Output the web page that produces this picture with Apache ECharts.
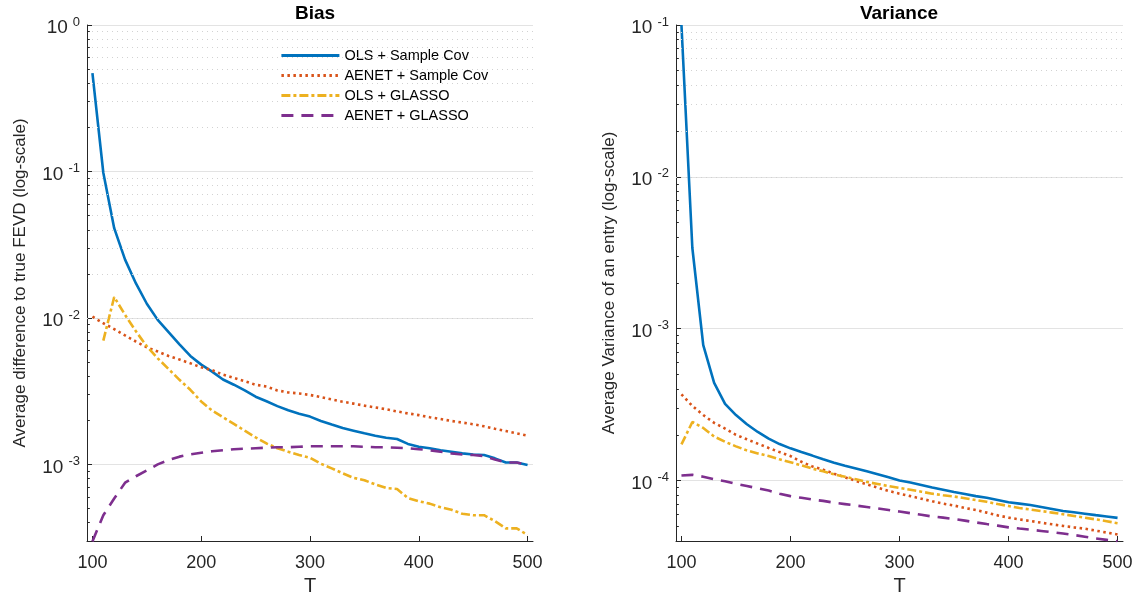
<!DOCTYPE html>
<html>
<head>
<meta charset="utf-8">
<script src="https://cdn.jsdelivr.net/npm/echarts@6/dist/echarts.min.js"></script>
<style>
  html, body { margin: 0; padding: 0; background: #fff; }
  #main { width: 1142px; height: 604px; }
</style>
</head>
<body>
<div id="main"></div>
<script>
// sample sizes
const T = [100, 110, 120, 130, 140, 150, 160, 170, 180, 190, 200, 210, 220, 230, 240, 250, 260, 270, 280, 290, 300,
           310, 320, 330, 340, 350, 360, 370, 380, 390, 400, 410, 420, 430, 440, 450, 460, 470, 480, 490, 500];

const seriesNames = ['OLS + Sample Cov', 'AENET + Sample Cov', 'OLS + GLASSO', 'AENET + GLASSO'];

// Bias panel
const biasOlsSample = [0.47, 0.098, 0.041, 0.025, 0.0172, 0.0125, 0.0097, 0.0080, 0.0066, 0.0055, 0.0048,
  0.0043, 0.0038, 0.0035, 0.0032, 0.0029, 0.0027, 0.0025, 0.00234, 0.00222, 0.00212,
  0.00198, 0.00187, 0.00177, 0.00170, 0.00163, 0.00157, 0.00152, 0.00149, 0.00138, 0.00132,
  0.00129, 0.00125, 0.00122, 0.00119, 0.00117, 0.00116, 0.00110, 0.00103, 0.00103, 0.00099];
const biasAenetSample = [0.0102, 0.0092, 0.0084, 0.0076, 0.0069, 0.0063, 0.0059, 0.0055, 0.0052, 0.0049, 0.0046,
  0.0044, 0.0041, 0.0039, 0.0037, 0.0035, 0.0034, 0.0032, 0.0031, 0.00305, 0.00298,
  0.00288, 0.00278, 0.00268, 0.00260, 0.00252, 0.00245, 0.00238, 0.00230, 0.00223, 0.00217,
  0.00210, 0.00204, 0.00198, 0.00193, 0.00188, 0.00182, 0.00175, 0.00169, 0.00163, 0.00157];
const biasOlsGlasso = [null, 0.0070, 0.0139, 0.0105, 0.0081, 0.0064, 0.0053, 0.00448, 0.00378, 0.00323, 0.00269,
  0.00233, 0.0021, 0.00189, 0.0017, 0.00153, 0.00139, 0.00129, 0.00122, 0.00116, 0.00111,
  0.00101, 0.00094, 0.00087, 0.00081, 0.00078, 0.00073, 0.00069, 0.00068, 0.00059, 0.00056,
  0.00054, 0.00051, 0.00049, 0.00046, 0.00045, 0.00045, 0.00041, 0.000366, 0.000366, 0.00033];
const biasAenetGlasso = [0.000298, 0.00045, 0.000585, 0.00075, 0.00083, 0.00091, 0.00100, 0.00107, 0.00113, 0.00117, 0.00120,
  0.00123, 0.00125, 0.00127, 0.00128, 0.00129, 0.00130, 0.00131, 0.00131, 0.00132, 0.00133,
  0.00133, 0.00133, 0.00133, 0.00133, 0.00132, 0.00131, 0.00131, 0.00130, 0.00129, 0.00127,
  0.00125, 0.00122, 0.00119, 0.00117, 0.00116, 0.00114, 0.00108, 0.00103, 0.00103, 0.00099];

// Variance panel
const varOlsSample = [0.1, 0.0034, 0.00078, 0.00044, 0.00032, 0.00027, 0.000235, 0.000209, 0.000189, 0.000174, 0.000163,
  0.000154, 0.000146, 0.000138, 0.000131, 0.000125, 0.00012, 0.000115, 0.00011, 0.000105, 0.0001,
  9.7e-5, 9.35e-5, 9.0e-5, 8.7e-5, 8.4e-5, 8.15e-5, 7.9e-5, 7.7e-5, 7.45e-5, 7.2e-5,
  7.05e-5, 6.9e-5, 6.7e-5, 6.5e-5, 6.3e-5, 6.18e-5, 6.05e-5, 5.92e-5, 5.8e-5, 5.68e-5];
const varAenetSample = [0.00037, 0.00031, 0.00027, 0.00024, 0.00022, 0.0002, 0.000187, 0.000175, 0.000164, 0.000154, 0.000145,
  0.000133, 0.000124, 0.000118, 0.000111, 0.000105, 9.95e-5, 9.45e-5, 9.0e-5, 8.55e-5, 8.2e-5,
  7.9e-5, 7.6e-5, 7.3e-5, 7.05e-5, 6.85e-5, 6.6e-5, 6.4e-5, 6.15e-5, 5.9e-5, 5.7e-5,
  5.55e-5, 5.42e-5, 5.28e-5, 5.15e-5, 5.03e-5, 4.92e-5, 4.82e-5, 4.68e-5, 4.55e-5, 4.42e-5];
const varOlsGlasso = [0.000173, 0.000243, 0.000222, 0.000195, 0.00018, 0.000168, 0.000158, 0.000151, 0.000145, 0.000138, 0.000132,
  0.000126, 0.00012, 0.000115, 0.00011, 0.000106, 0.000102, 9.8e-5, 9.5e-5, 9.2e-5, 8.95e-5,
  8.7e-5, 8.45e-5, 8.2e-5, 8.0e-5, 7.85e-5, 7.65e-5, 7.45e-5, 7.25e-5, 7.0e-5, 6.8e-5,
  6.6e-5, 6.45e-5, 6.3e-5, 6.15e-5, 6.0e-5, 5.85e-5, 5.7e-5, 5.55e-5, 5.4e-5, 5.24e-5];
const varAenetGlasso = [0.000108, 0.000109, 0.000106, 0.000102, 9.9e-5, 9.5e-5, 9.2e-5, 8.9e-5, 8.6e-5, 8.2e-5, 7.9e-5,
  7.7e-5, 7.5e-5, 7.35e-5, 7.15e-5, 7.0e-5, 6.85e-5, 6.7e-5, 6.55e-5, 6.4e-5, 6.25e-5,
  6.1e-5, 5.95e-5, 5.8e-5, 5.7e-5, 5.58e-5, 5.45e-5, 5.3e-5, 5.17e-5, 5.05e-5, 4.92e-5,
  4.83e-5, 4.75e-5, 4.66e-5, 4.57e-5, 4.48e-5, 4.38e-5, 4.27e-5, 4.16e-5, 4.07e-5, 3.98e-5];

const xTicks = [100, 200, 300, 400, 500];
const xRange = [95, 505];
const biasRange = [3e-4, 1];
const varRange = [4e-5, 0.1];

const FONT = 'Liberation Sans, Arial, Helvetica, sans-serif';
const INK = '#262626';
const colors = ['#0072BD', '#D95319', '#EDB120', '#7E2F8E'];
const dashes = ['solid', [2.5, 3.5], [9, 3, 3, 3], [12, 8]];

let myChart = echarts.init(document.getElementById('main'), null, { renderer: 'canvas' });

// 2..9 x 10^k values strictly inside the range, for the dotted minor grid
function minorValues(range) {
  const out = [];
  for (let e = Math.floor(Math.log10(range[0])); e < Math.ceil(Math.log10(range[1])); e++) {
    for (let m = 2; m <= 9; m++) {
      const v = m * Math.pow(10, e);
      if (v > range[0] * 1.0001 && v < range[1] * 0.9999) out.push(v);
    }
  }
  return out;
}

function pairs(ys) {
  return T.map((t, i) => [t, ys[i]]);
}

function minorSeries(idx, range) {
  const mv = minorValues(range);
  const grid = mv.map(v => ({ yAxis: v }));
  const ticks = mv.map(v => [
    { coord: [xRange[0], v], lineStyle: { type: 'solid', color: INK, width: 1 } },
    { coord: [xRange[0] + 2.6, v] }
  ]);
  return {
    type: 'line', name: 'minor' + idx, xAxisIndex: idx, yAxisIndex: idx,
    data: [], z: 1, silent: true,
    markLine: {
      silent: true, symbol: 'none', animation: false,
      label: { show: false },
      emphasis: { disabled: true },
      lineStyle: { color: '#d2d2d2', type: [1, 4], width: 1 },
      data: grid.concat(ticks)
    }
  };
}

function yAxisFor(idx, range, name) {
  return {
    type: 'log', logBase: 10, gridIndex: idx,
    min: range[0], max: range[1],
    name: name, nameLocation: 'middle', nameGap: 58,
    nameTextStyle: { fontFamily: FONT, fontSize: 17, color: INK },
    axisLine: { show: true, lineStyle: { color: INK, width: 1 } },
    axisTick: { show: true, inside: true, length: 5, lineStyle: { color: INK } },
    splitLine: { show: true, lineStyle: { color: '#e3e3e3', width: 1 } },
    axisLabel: {
      margin: 7,
      formatter: function (v) {
        const e = Math.log10(v);
        if (Math.abs(e - Math.round(e)) > 1e-6) return '';
        return '{b|10}{s|' + Math.round(e) + '}';
      },
      rich: {
        b: { fontFamily: FONT, fontSize: 19, color: INK, padding: [6, 0, 0, 0] },
        s: { fontFamily: FONT, fontSize: 13, color: INK, padding: [0, 0, 6, 5] }
      }
    }
  };
}

function xAxisFor(idx) {
  return {
    type: 'value', gridIndex: idx, min: xRange[0], max: xRange[1],
    name: 'T', nameLocation: 'middle', nameGap: 34,
    nameTextStyle: { fontFamily: FONT, fontSize: 20, color: INK },
    axisLine: { show: true, onZero: false, lineStyle: { color: INK, width: 1 } },
    axisTick: { show: true, inside: true, length: 5, customValues: xTicks, lineStyle: { color: INK } },
    axisLabel: { customValues: xTicks, margin: 13, fontFamily: FONT, fontSize: 18, color: INK },
    splitLine: { show: false }
  };
}

function dataSeries(idx, lists) {
  return lists.map((ys, k) => ({
    type: 'line', name: seriesNames[k], xAxisIndex: idx, yAxisIndex: idx,
    data: pairs(ys), showSymbol: false, symbol: 'none', z: 3,
    connectNulls: false, clip: true,
    color: colors[k],
    lineStyle: { color: colors[k], width: 2.6, type: dashes[k] }
  }));
}

option = {
  animation: false,
  backgroundColor: '#fff',
  title: [
    { text: 'Bias', left: 310, top: -1, textAlign: 'center',
      textStyle: { fontFamily: FONT, fontSize: 19, fontWeight: 'bold', color: '#000' } },
    { text: 'Variance', left: 894, top: -1, textAlign: 'center',
      textStyle: { fontFamily: FONT, fontSize: 19, fontWeight: 'bold', color: '#000' } }
  ],
  legend: {
    data: seriesNames, orient: 'vertical', left: 280, top: 48,
    itemWidth: 58, itemHeight: 14, itemGap: 5, padding: 0,
    itemStyle: { opacity: 0 },
    lineStyle: { width: 2.8 },
    textStyle: { fontFamily: FONT, fontSize: 14.5, color: '#000' }
  },
  grid: [
    { left: 87, right: 609, top: 25, bottom: 63 },
    { left: 676, right: 19, top: 25, bottom: 63 }
  ],
  xAxis: [xAxisFor(0), xAxisFor(1)],
  yAxis: [
    yAxisFor(0, biasRange, 'Average difference to true FEVD (log-scale)'),
    yAxisFor(1, varRange, 'Average Variance of an entry (log-scale)')
  ],
  series: [minorSeries(0, biasRange), minorSeries(1, varRange)]
    .concat(dataSeries(0, [biasOlsSample, biasAenetSample, biasOlsGlasso, biasAenetGlasso]))
    .concat(dataSeries(1, [varOlsSample, varAenetSample, varOlsGlasso, varAenetGlasso]))
};

myChart.setOption(option);
</script>
</body>
</html>
